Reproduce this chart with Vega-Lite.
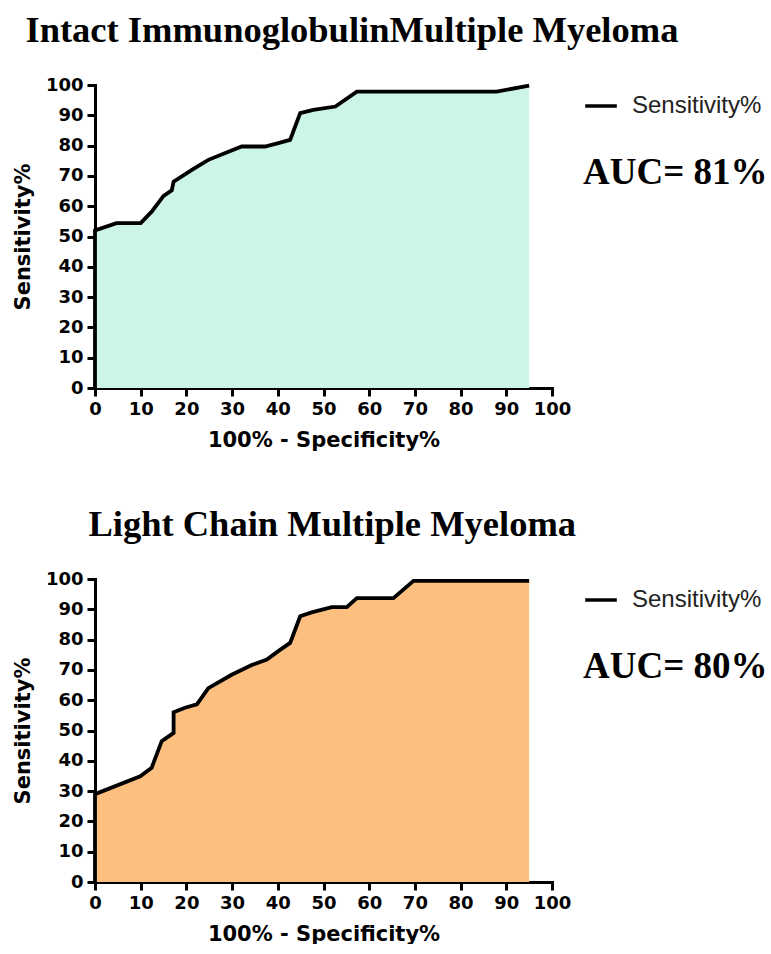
{
  "$schema": "https://vega.github.io/schema/vega-lite/v6.json",
  "background": "white",
  "padding": {"left": 12, "top": 12, "right": 0, "bottom": 0},
  "datasets": {
    "igmm": [
      {"i": 0, "x": 0, "y": 0},
      {"i": 1, "x": 0, "y": 52},
      {"i": 2, "x": 4.7, "y": 54.4},
      {"i": 3, "x": 10, "y": 54.4},
      {"i": 4, "x": 12.4, "y": 58.2},
      {"i": 5, "x": 15, "y": 63.4},
      {"i": 6, "x": 16.8, "y": 65.2},
      {"i": 7, "x": 17.2, "y": 68.1},
      {"i": 8, "x": 21.2, "y": 72},
      {"i": 9, "x": 24.8, "y": 75.3},
      {"i": 10, "x": 29.2, "y": 78},
      {"i": 11, "x": 32.1, "y": 79.7},
      {"i": 12, "x": 37.2, "y": 79.7},
      {"i": 13, "x": 40.1, "y": 80.8},
      {"i": 14, "x": 42.7, "y": 81.9},
      {"i": 15, "x": 44.9, "y": 90.7},
      {"i": 16, "x": 47.8, "y": 91.8},
      {"i": 17, "x": 52.6, "y": 92.9},
      {"i": 18, "x": 57.3, "y": 97.8},
      {"i": 19, "x": 87.9, "y": 97.8},
      {"i": 20, "x": 95, "y": 99.8}
    ],
    "lcmm": [
      {"i": 0, "x": 0, "y": 0},
      {"i": 1, "x": 0, "y": 29},
      {"i": 2, "x": 9.9, "y": 34.9},
      {"i": 3, "x": 12.4, "y": 37.7},
      {"i": 4, "x": 14.6, "y": 46.5},
      {"i": 5, "x": 17.2, "y": 49.2},
      {"i": 6, "x": 17.2, "y": 56},
      {"i": 7, "x": 19.7, "y": 57.5},
      {"i": 8, "x": 22.3, "y": 58.6},
      {"i": 9, "x": 24.8, "y": 64},
      {"i": 10, "x": 29.9, "y": 68.4},
      {"i": 11, "x": 34.3, "y": 71.6},
      {"i": 12, "x": 37.6, "y": 73.4},
      {"i": 13, "x": 40.1, "y": 76.2},
      {"i": 14, "x": 42.7, "y": 78.9},
      {"i": 15, "x": 44.9, "y": 87.7},
      {"i": 16, "x": 47.4, "y": 89},
      {"i": 17, "x": 51.8, "y": 90.7},
      {"i": 18, "x": 55.1, "y": 90.7},
      {"i": 19, "x": 57.3, "y": 93.7},
      {"i": 20, "x": 65.3, "y": 93.7},
      {"i": 21, "x": 69.7, "y": 99.4},
      {"i": 22, "x": 95, "y": 99.4}
    ]
  },
  "config": {
    "view": {"stroke": null},
    "axis": {
      "domainColor": "black", "domainWidth": 3, "domainCap": "square",
      "tickColor": "black", "tickWidth": 3, "tickSize": 8,
      "grid": false,
      "labelFont": "DejaVu Sans", "labelFontWeight": "bold", "labelFontSize": 18, "labelColor": "black", "labelPadding": 4,
      "labelFlush": false, "labelOverlap": false,
      "titleFont": "DejaVu Sans", "titleFontWeight": "bold", "titleFontSize": 21, "titleColor": "black"
    },
    "title": {"font": "Liberation Serif", "fontWeight": "bold", "fontSize": 36.5, "color": "black", "anchor": "start", "frame": "bounds", "offset": 27},
    "legend": {
      "symbolType": "stroke", "symbolStrokeWidth": 3.5, "symbolSize": 1000, "symbolStrokeColor": "black",
      "labelFont": "Liberation Sans", "labelFontSize": 24, "labelColor": "#222222", "labelOffset": 13,
      "titleFont": "Liberation Serif", "titleFontWeight": "bold", "titleFontSize": 37, "titleColor": "black",
      "titleOrient": "bottom", "titlePadding": 37, "titleLimit": 400, "titleAnchor": "start",
      "offset": 28, "padding": 3
    }
  },
  "spacing": 56,
  "resolve": {"scale": {"stroke": "independent"}, "legend": {"stroke": "independent"}},
  "vconcat": [
    {
      "title": {"text": "Intact ImmunoglobulinMultiple Myeloma", "dx": 13},
      "width": 457,
      "height": 303,
      "data": {"name": "igmm"},
      "encoding": {
        "x": {"field": "x", "type": "quantitative", "scale": {"domain": [0, 100], "nice": false},
              "axis": {"values": [0, 10, 20, 30, 40, 50, 60, 70, 80, 90, 100], "title": "100% - Specificity%", "titlePadding": 11}},
        "y": {"field": "y", "type": "quantitative", "scale": {"domain": [0, 100], "nice": false}, "stack": null,
              "axis": {"values": [0, 10, 20, 30, 40, 50, 60, 70, 80, 90, 100], "title": "Sensitivity%", "titlePadding": 12}}
      },
      "layer": [
        {"mark": {"type": "area", "color": "#CCF5E6", "opacity": 1}},
        {"mark": {"type": "line", "strokeWidth": 3.8},
         "encoding": {"order": {"field": "i", "type": "quantitative"},
                      "stroke": {"datum": "Sensitivity%", "type": "nominal", "scale": {"range": ["black"]}, "legend": {"title": "AUC= 81%"}}}}
      ]
    },
    {
      "title": {"text": "Light Chain Multiple Myeloma", "dx": 76},
      "width": 457,
      "height": 303,
      "data": {"name": "lcmm"},
      "encoding": {
        "x": {"field": "x", "type": "quantitative", "scale": {"domain": [0, 100], "nice": false},
              "axis": {"values": [0, 10, 20, 30, 40, 50, 60, 70, 80, 90, 100], "title": "100% - Specificity%", "titlePadding": 11}},
        "y": {"field": "y", "type": "quantitative", "scale": {"domain": [0, 100], "nice": false}, "stack": null,
              "axis": {"values": [0, 10, 20, 30, 40, 50, 60, 70, 80, 90, 100], "title": "Sensitivity%", "titlePadding": 12}}
      },
      "layer": [
        {"mark": {"type": "area", "color": "#FDBF80", "opacity": 1}},
        {"mark": {"type": "line", "strokeWidth": 3.8},
         "encoding": {"order": {"field": "i", "type": "quantitative"},
                      "stroke": {"datum": "Sensitivity%", "type": "nominal", "scale": {"range": ["black"]}, "legend": {"title": "AUC= 80%"}}}}
      ]
    }
  ]
}
